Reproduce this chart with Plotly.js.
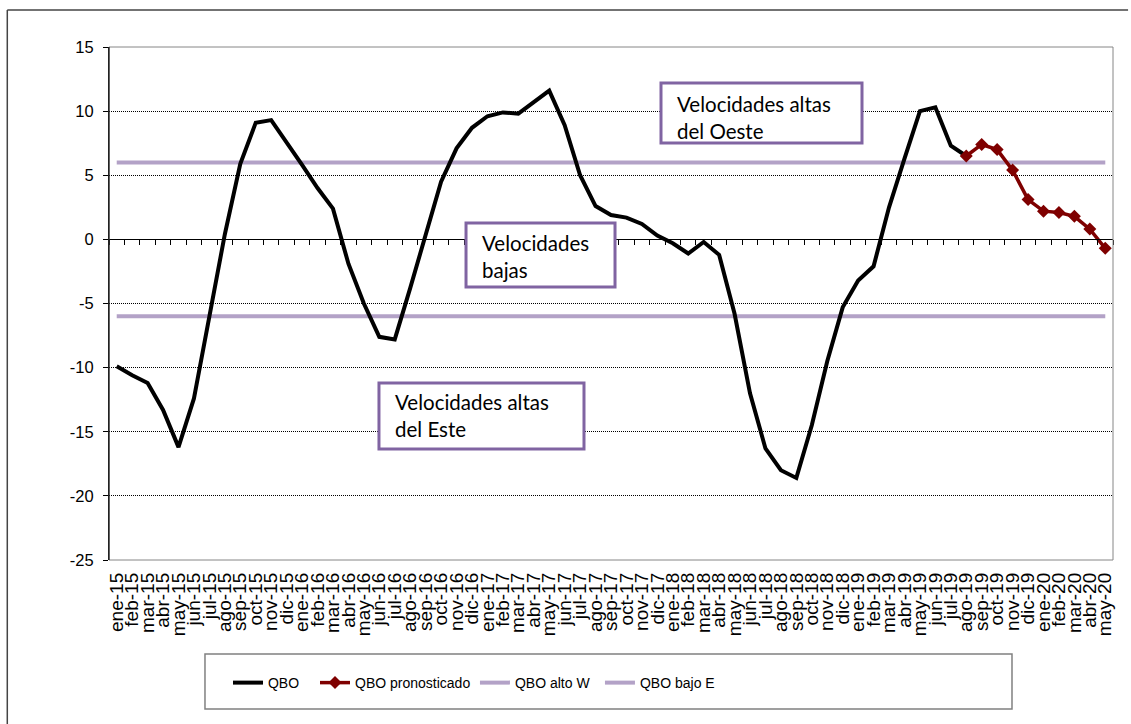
<!DOCTYPE html>
<html>
<head>
<meta charset="utf-8">
<script src="https://cdn.plot.ly/plotly-3.0.1.min.js"></script>
<style>
html,body{margin:0;padding:0;background:#fff;}
#chart{width:1131px;height:724px;}
</style>
</head>
<body>
<div id="chart"></div>
<script>
// ---- Data ----
const categories = [
  'ene-15','feb-15','mar-15','abr-15','may-15','jun-15','jul-15','ago-15','sep-15','oct-15','nov-15','dic-15',
  'ene-16','feb-16','mar-16','abr-16','may-16','jun-16','jul-16','ago-16','sep-16','oct-16','nov-16','dic-16',
  'ene-17','feb-17','mar-17','abr-17','may-17','jun-17','jul-17','ago-17','sep-17','oct-17','nov-17','dic-17',
  'ene-18','feb-18','mar-18','abr-18','may-18','jun-18','jul-18','ago-18','sep-18','oct-18','nov-18','dic-18',
  'ene-19','feb-19','mar-19','abr-19','may-19','jun-19','jul-19','ago-19','sep-19','oct-19','nov-19','dic-19',
  'ene-20','feb-20','mar-20','abr-20','may-20'
];

const qboMonths = [
  'ene-15','feb-15','mar-15','abr-15','may-15','jun-15','jul-15','ago-15','sep-15','oct-15','nov-15','dic-15',
  'ene-16','feb-16','mar-16','abr-16','may-16','jun-16','jul-16','ago-16','sep-16','oct-16','nov-16','dic-16',
  'ene-17','feb-17','mar-17','abr-17','may-17','jun-17','jul-17','ago-17','sep-17','oct-17','nov-17','dic-17',
  'ene-18','feb-18','mar-18','abr-18','may-18','jun-18','jul-18','ago-18','sep-18','oct-18','nov-18','dic-18',
  'ene-19','feb-19','mar-19','abr-19','may-19','jun-19','jul-19','ago-19'
];
const qboValues = [
  -9.9, -10.6, -11.2, -13.3, -16.2, -12.4, -6.0, 0.4, 5.9, 9.1, 9.3, 7.6,
  5.8, 4.0, 2.4, -1.9, -5.0, -7.6, -7.8, -3.8, 0.3, 4.5, 7.1, 8.7,
  9.6, 9.9, 9.8, 10.7, 11.6, 8.9, 5.0, 2.6, 1.9, 1.7, 1.2, 0.3,
  -0.3, -1.1, -0.2, -1.2, -5.8, -12.0, -16.3, -18.0, -18.6, -14.5, -9.5, -5.3,
  -3.2, -2.1, 2.5, 6.3, 10.0, 10.3, 7.3, 6.5
];

const forecastMonths = ['ago-19','sep-19','oct-19','nov-19','dic-19','ene-20','feb-20','mar-20','abr-20','may-20'];
const forecastValues = [6.5, 7.4, 7.0, 5.4, 3.1, 2.2, 2.1, 1.8, 0.8, -0.7];

const altoW = 6;
const bajoE = -6;

const yTicks = [15, 10, 5, 0, -5, -10, -15, -20, -25];

const seriesNames = ['QBO', 'QBO pronosticado', 'QBO alto W', 'QBO bajo E'];
const boxTexts = ['Velocidades altas<br>del Oeste', 'Velocidades<br>bajas', 'Velocidades altas<br>del Este'];

// ---- Styles ----
const arial = 'Liberation Sans, Arial, sans-serif';
const boxFont = 'Lato, Carlito, Calibri, sans-serif';
const purple = '#B3A2C7';
const boxLine = '#8064A2';

const firstCat = categories[0];
const lastCat = categories[categories.length - 1];

const traces = [
  { x: categories, y: categories.map(() => null), mode: 'lines', showlegend: false, hoverinfo: 'skip', xaxis: 'x', yaxis: 'y' },
  { x: categories, y: categories.map(() => null), mode: 'lines', showlegend: false, hoverinfo: 'skip', xaxis: 'x2', yaxis: 'y' },
  { x: [firstCat, lastCat], y: [altoW, altoW], name: seriesNames[2], mode: 'lines',
    line: { color: purple, width: 4 }, legend: 'legend3' },
  { x: [firstCat, lastCat], y: [bajoE, bajoE], name: seriesNames[3], mode: 'lines',
    line: { color: purple, width: 4 }, legend: 'legend4' },
  { x: qboMonths, y: qboValues, name: seriesNames[0], mode: 'lines',
    line: { color: '#000000', width: 4 }, legend: 'legend' },
  { x: forecastMonths, y: forecastValues, name: seriesNames[1], mode: 'lines+markers',
    line: { color: '#7F0000', width: 3.5 },
    marker: { symbol: 'diamond', size: 10, color: '#7F0000' }, legend: 'legend2' }
];

function legendAt(px) {
  return {
    x: px, y: -0.2398, xanchor: 'left', yanchor: 'middle', orientation: 'h',
    bgcolor: 'rgba(0,0,0,0)', borderwidth: 0,
    font: { family: arial, size: 14, color: '#000' }
  };
}

function boxShape(x0, x1, y0, y1) {
  return { type: 'rect', xref: 'paper', yref: 'paper', x0: x0, x1: x1, y0: y0, y1: y1,
    line: { color: boxLine, width: 3 }, fillcolor: '#ffffff', layer: 'above' };
}

function boxText(txt, x, y) {
  return { xref: 'paper', yref: 'paper', x: x, y: y, xanchor: 'left', yanchor: 'top',
    align: 'left', showarrow: false, text: txt, borderpad: 0,
    font: { family: boxFont, size: 20.5, color: '#000' } };
}

const layout = {
  width: 1131, height: 724,
  margin: { l: 109, r: 18, t: 47, b: 164, autoexpand: false },
  paper_bgcolor: '#ffffff', plot_bgcolor: '#ffffff',
  hovermode: false,
  xaxis: {
    type: 'category', range: [-0.5, 64.5], tickmode: 'linear', tick0: 0, dtick: 1,
    tickangle: -90, ticks: '', showgrid: false, zeroline: false, showline: false,
    tickfont: { family: arial, size: 19, color: '#000' }, ticklabelstandoff: 8, fixedrange: true
  },
  xaxis2: {
    type: 'category', overlaying: 'x', anchor: 'free', position: 0.625, side: 'bottom',
    range: [-0.5, 64.5], tickmode: 'linear', tick0: 0, dtick: 1, tickson: 'boundaries',
    ticks: 'outside', ticklen: 5, tickwidth: 1, tickcolor: '#000',
    showline: true, linecolor: '#000', linewidth: 1,
    showticklabels: false, showgrid: false, zeroline: false, fixedrange: true
  },
  yaxis: {
    range: [-25, 15], tickmode: 'array', tickvals: yTicks, ticktext: yTicks.map(String),
    ticks: 'outside', ticklen: 5, tickwidth: 1, tickcolor: '#000',
    showline: true, linecolor: '#000', linewidth: 1,
    showgrid: true, gridcolor: '#000', gridwidth: 1, griddash: '1px,1px',
    zeroline: false, tickfont: { family: arial, size: 16.5, color: '#000' },
    ticklabelstandoff: 6, fixedrange: true
  },
  legend: legendAt(0.1185),
  legend2: legendAt(0.2052),
  legend3: legendAt(0.3645),
  legend4: legendAt(0.489),
  shapes: [
    // plot area border
    { type: 'rect', xref: 'paper', yref: 'paper', x0: 0, x1: 1, y0: 0, y1: 1,
      line: { color: '#868686', width: 1 }, layer: 'above' },
    { type: 'line', xref: 'paper', yref: 'paper', x0: 0, x1: 0, y0: 0, y1: 1,
      line: { color: '#000', width: 1 }, layer: 'above' },
    // outer chart frame (top and left)
    { type: 'line', xref: 'paper', yref: 'paper', x0: -0.1013, x1: 1.015, y0: 1.0721, y1: 1.0721,
      line: { color: '#444', width: 1.5 } },
    { type: 'line', xref: 'paper', yref: 'paper', x0: -0.1013, x1: -0.1013, y0: 1.0721, y1: -0.33,
      line: { color: '#444', width: 1.5 } },
    // legend box
    { type: 'rect', xref: 'paper', yref: 'paper', x0: 0.0956, x1: 0.8994, y0: -0.2904, y1: -0.1832,
      line: { color: '#808080', width: 1.5 } },
    // text boxes
    boxShape(0.5498, 0.75, 0.8129, 0.9298),
    boxShape(0.3556, 0.5040, 0.5322, 0.6569),
    boxShape(0.2689, 0.4731, 0.2164, 0.3450)
  ],
  annotations: [
    boxText(boxTexts[0], 0.5647, 0.9148),
    boxText(boxTexts[1], 0.3705, 0.6433),
    boxText(boxTexts[2], 0.2839, 0.3333)
  ]
};

Plotly.newPlot('chart', traces, layout, { staticPlot: true, displayModeBar: false });
</script>
</body>
</html>
